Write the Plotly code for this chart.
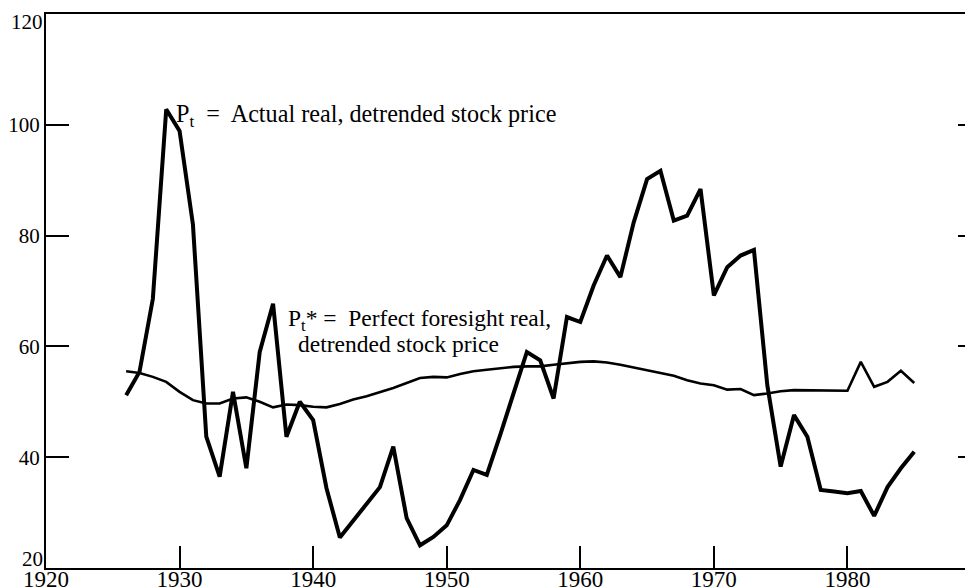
import plotly.graph_objects as go

years = list(range(1926, 1986))

actual_price = [51.2, 55.4, 68.6, 102.8, 98.9, 82.0, 43.7, 36.5, 51.8, 38.0,
                59.0, 67.7, 43.7, 50.0, 46.7, 34.4, 25.5, 28.5, 31.5, 34.6,
                41.9, 29.0, 24.1, 25.6, 27.7, 32.3, 37.7, 36.8, 44.0, 51.5,
                59.0, 57.5, 50.6, 65.3, 64.4, 71.0, 76.4, 72.5, 82.4, 90.2,
                91.7, 82.7, 83.6, 88.4, 69.2, 74.3, 76.4, 77.4, 53.0, 38.3,
                47.6, 43.7, 34.1, 33.8, 33.5, 33.9, 29.4, 34.6, 38.0, 41.0]

perfect_foresight = [55.5, 55.2, 54.5, 53.6, 51.8, 50.3, 49.7, 49.7, 50.6, 50.8,
                     50.0, 49.0, 49.5, 49.4, 49.1, 49.0, 49.6, 50.4, 51.0, 51.7,
                     52.5, 53.4, 54.3, 54.5, 54.4, 55.0, 55.5, 55.8, 56.1, 56.3,
                     56.4, 56.4, 56.7, 57.0, 57.2, 57.3, 57.1, 56.7, 56.2, 55.8,
                     55.2, 54.7, 53.9, 53.3, 53.0, 52.2, 52.3, 51.2, 51.5, 51.9,
                     52.1, 52.1, 52.1, 52.0, 52.0, 57.2, 52.7, 53.6, 55.6, 53.4]

x_ticks = [1920, 1930, 1940, 1950, 1960, 1970, 1980]
y_ticks = [20, 40, 60, 80, 100, 120]
y_tick_labels = ["", "40", "60", "80", "100", ""]   # 20 and 120 are placed as nudged labels below
y_end_labels = [20, 120]

SERIF = "Liberation Serif, Times New Roman, serif"

fig = go.Figure()
fig.add_trace(go.Scatter(x=years, y=perfect_foresight, mode="lines",
                         line=dict(color="black", width=2.6), showlegend=False))
fig.add_trace(go.Scatter(x=years, y=actual_price, mode="lines",
                         line=dict(color="black", width=4), showlegend=False))
# invisible trace on secondary y axis to display right-side ticks
fig.add_trace(go.Scatter(x=[1920], y=[20], yaxis="y2", mode="markers",
                         marker=dict(opacity=0), showlegend=False, hoverinfo="skip"))

# page body has an 8px margin, so the figure is sized to fill the rest of the window
fig.update_layout(
    width=965, height=580,
    margin=dict(l=38, r=0, t=6, b=20, autoexpand=False),
    paper_bgcolor="white", plot_bgcolor="white",
    font=dict(family=SERIF, color="black"),
    xaxis=dict(range=[1920, 1989.4], tickvals=x_ticks, ticks="inside", ticklen=22,
               tickwidth=2, tickcolor="black", showline=True, linewidth=2,
               linecolor="black", mirror=True, showgrid=False, zeroline=False,
               automargin=False, ticklabelstandoff=-11,
               tickfont=dict(family=SERIF, size=23, color="black")),
    yaxis=dict(range=[20, 120], tickvals=y_ticks, ticktext=y_tick_labels,
               ticks="inside", ticklen=23,
               tickwidth=2, tickcolor="black", showline=True, linewidth=2,
               linecolor="black", mirror=False, showgrid=False, zeroline=False,
               automargin=False,
               tickfont=dict(family=SERIF, size=21, color="black")),
    yaxis2=dict(range=[20, 120], tickvals=[40, 60, 80, 100], ticks="inside", ticklen=15,
                tickwidth=2, tickcolor="black", showline=False, overlaying="y",
                side="right", showticklabels=False, showgrid=False, zeroline=False,
                automargin=False),
)

for val, shift in zip(y_end_labels, [9, -8]):
    fig.add_annotation(xref="paper", yref="y", x=0, y=val, xanchor="right",
                       yanchor="middle", xshift=-1, yshift=shift, showarrow=False,
                       text=str(val), font=dict(family=SERIF, size=21, color="black"))

fig.add_annotation(xref="paper", yref="paper", x=0.138, y=0.817, xanchor="left",
                   yanchor="middle", showarrow=False,
                   text="P<sub>t</sub>  =  Actual real, detrended stock price",
                   font=dict(family=SERIF, size=24.2, color="black"))
fig.add_annotation(xref="paper", yref="paper", x=0.259, y=0.447, xanchor="left",
                   yanchor="middle", showarrow=False,
                   text="P<sub>t</sub>* =  Perfect foresight real,",
                   font=dict(family=SERIF, size=23.5, color="black"))
fig.add_annotation(xref="paper", yref="paper", x=0.270, y=0.405, xanchor="left",
                   yanchor="middle", showarrow=False,
                   text="detrended stock price",
                   font=dict(family=SERIF, size=23.5, color="black"))

fig.write_html("out.html")
